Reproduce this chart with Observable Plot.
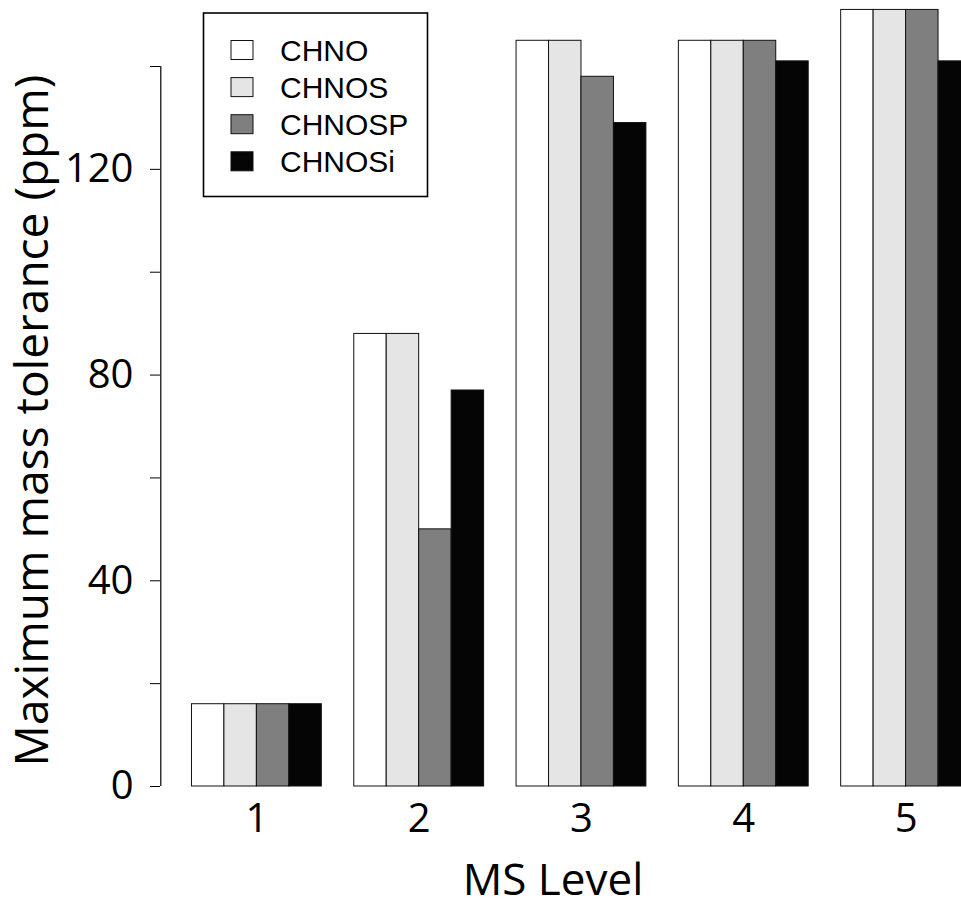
<!DOCTYPE html>
<html>
<head>
<meta charset="utf-8">
<script src="https://cdn.jsdelivr.net/npm/d3@7"></script>
<script src="https://cdn.jsdelivr.net/npm/@observablehq/plot@0.6"></script>
<style>
  html, body { margin: 0; padding: 0; background: white; overflow: hidden; }
  #chart { position: relative; width: 961px; height: 905px; overflow: hidden; }
  #chart svg { max-width: none !important; }
</style>
</head>
<body>
<div id="chart"></div>
<script>
// ---- data ----
const levels = [1, 2, 3, 4, 5];
const series = ["CHNO", "CHNOS", "CHNOSP", "CHNOSi"];
const fills = ["#ffffff", "#e5e5e5", "#7f7f7f", "#050505"];
const valuesCHNO   = [16, 88, 145, 145, 151];
const valuesCHNOS  = [16, 88, 145, 145, 151];
const valuesCHNOSP = [16, 50, 138, 145, 151];
const valuesCHNOSi = [16, 77, 129, 141, 141];
const yTicks = [0, 20, 40, 60, 80, 100, 120, 140];
const yLabel = "Maximum mass tolerance (ppm)";
const xLabel = "MS Level";

// ---- table ----
const seriesValues = [valuesCHNO, valuesCHNOS, valuesCHNOSP, valuesCHNOSi];
const perGroup = series.length + 1; // bars + one bar-width gap
const table = [];
levels.forEach((lv, gi) => {
  series.forEach((s, si) => {
    table.push({level: lv, series: s, value: seriesValues[si][gi], pos: gi * perGroup + si + 1});
  });
});
const nSlots = levels.length * perGroup;          // 25 bar units
const ext = 0.04 * (nSlots - 1);                  // R-style 4% extension
const xDomain = [1 - ext, nSlots + ext];
const barPx = 32.46;
const left = 160.3;
const centers = levels.map((lv, gi) => gi * perGroup + 1 + series.length / 2);

const plot = Plot.plot({
  width: 961,
  height: 905,
  marginLeft: 160,
  marginRight: 0,
  marginTop: 66,
  marginBottom: 119,
  style: {fontFamily: "'Open Sans', 'Noto Sans', sans-serif", fontSize: "40px", color: "black", background: "white", overflow: "visible"},
  x: {domain: xDomain, range: [left, left + (xDomain[1] - xDomain[0]) * barPx]},
  y: {domain: [0, 140]},
  color: {domain: series, range: fills},
  marks: [
    Plot.rect(table, {x1: "pos", x2: d => d.pos + 1, y1: 0, y2: "value", fill: "series", stroke: "#111", strokeWidth: 1}),
    Plot.ruleX([xDomain[0]], {y1: 0, y2: 140, stroke: "black", strokeWidth: 1.2}),
    Plot.axisY({ticks: yTicks, tickSize: 10, tickPadding: 17, tickFormat: d => (d % 40 === 0 ? String(d) : ""), label: null, fontSize: 40}),
    Plot.axisX({ticks: centers, tickSize: 0, tickPadding: 17, tickFormat: d => String(levels[Math.round((d - centers[0]) / perGroup)]), label: null, fontSize: 40}),
    Plot.text([yLabel], {text: d => d, frameAnchor: "left", rotate: -90, textAnchor: "middle", lineAnchor: "middle", dx: -127, dy: -6, fontSize: 46}),
    Plot.text([xLabel], {text: d => d, frameAnchor: "bottom", textAnchor: "middle", lineAnchor: "middle", dx: -8, dy: 94, fontSize: 44})
  ]
});
document.getElementById("chart").appendChild(plot);

// ---- legend (drawn inside the plot area, R-style) ----
const svg = d3.select(plot);
const lg = svg.append("g").attr("class", "legend");
lg.append("rect").attr("x", 203.5).attr("y", 13).attr("width", 224).attr("height", 183.5)
  .attr("fill", "white").attr("stroke", "black").attr("stroke-width", 1.6);
series.forEach((s, i) => {
  const cy = 50 + i * 37.1;
  lg.append("rect").attr("x", 231).attr("y", cy - 9.5).attr("width", 22).attr("height", 19)
    .attr("fill", fills[i]).attr("stroke", "#111").attr("stroke-width", 1);
  lg.append("text").attr("x", 280).attr("y", cy).attr("dy", "0.36em")
    .style("font-family", "'Liberation Sans', Arial, sans-serif")
    .style("font-size", "30px")
    .style("text-anchor", "start")
    .attr("fill", "black").text(s);
});
</script>
</body>
</html>
